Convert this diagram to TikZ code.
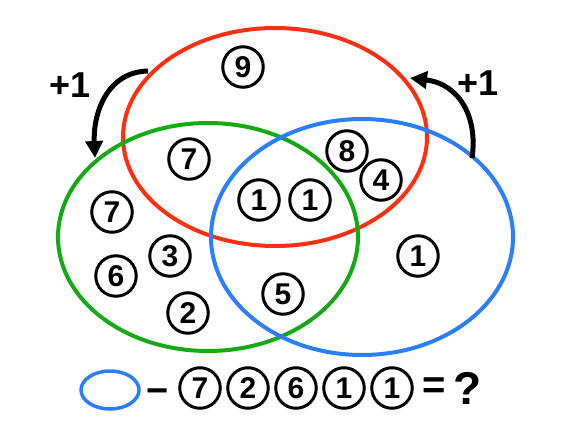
\documentclass[tikz,border=0pt]{standalone}
\usepackage{fontspec}
\setmainfont{Liberation Sans}
\usetikzlibrary{arrows.meta}
\definecolor{vred}{RGB}{255,48,16}
\definecolor{vgreen}{RGB}{20,170,20}
\definecolor{vblue}{RGB}{40,128,255}
\tikzset{
  num/.style={circle,draw=black,line width=3pt,minimum size=40.5pt,inner sep=0pt,
    font=\fontsize{30}{30}\selectfont\bfseries},
  setline/.style={line width=4pt},
  curvearrow/.style={line width=5pt,-{Triangle[length=17pt,width=17pt]}},
  plus/.style={font=\fontsize{36}{36}\selectfont\bfseries}
}
\begin{document}
\begin{tikzpicture}[x=1pt,y=-1pt]
\useasboundingbox (0,0) rectangle (581,439);
% sets
\draw[setline,vred] (275,137) ellipse [x radius=152,y radius=109];
\draw[setline,vgreen] (208,237) ellipse [x radius=150,y radius=114];
\draw[setline,vblue] (362,237) ellipse [x radius=151,y radius=118];
% numbers
\node[num] (n9) at (243,67) {9};
\node[num] (n7a) at (189,159) {7};
\node[num] (n8) at (347,151) {8};
\node[num] (n4) at (381,180) {4};
\node[num] (n1a) at (259,200) {1};
\node[num] (n1b) at (310,200) {1};
\node[num] (n7b) at (112,212) {7};
\node[num] (n3) at (170,256) {3};
\node[num] (n6) at (116,276) {6};
\node[num] (n2) at (188,313) {2};
\node[num] (n5) at (283,294) {5};
\node[num] (n1c) at (418,256) {1};
% arrows
\coordinate (la) at (148,71);
\coordinate (lb) at (95,158);
\coordinate (ra) at (472,158);
\coordinate (rb) at (410,78);
\draw[curvearrow] (la) .. controls (106,72) and (93,115) .. (lb);
\draw[curvearrow] (ra) .. controls (478,118) and (460,84) .. (rb);
\node[plus] (pl) at (70,85) {+1};
\node[plus] (pr) at (478,83) {+1};
% equation
\draw[line width=3.5pt,vblue] (110,390) ellipse [x radius=29,y radius=19];
\node[font=\fontsize{38}{38}\selectfont\bfseries] (minus) at (158,396) {−};
\node[num] (e7) at (200,388) {7};
\node[num] (e2) at (248,388) {2};
\node[num] (e6) at (296,388) {6};
\node[num] (e1a) at (344,388) {1};
\node[num] (e1b) at (392,388) {1};
\node[font=\fontsize{40}{40}\selectfont\bfseries] (eq) at (434,388) {=};
\node[font=\fontsize{46}{46}\selectfont\bfseries] (q) at (468,388) {?};
\end{tikzpicture}
\end{document}
